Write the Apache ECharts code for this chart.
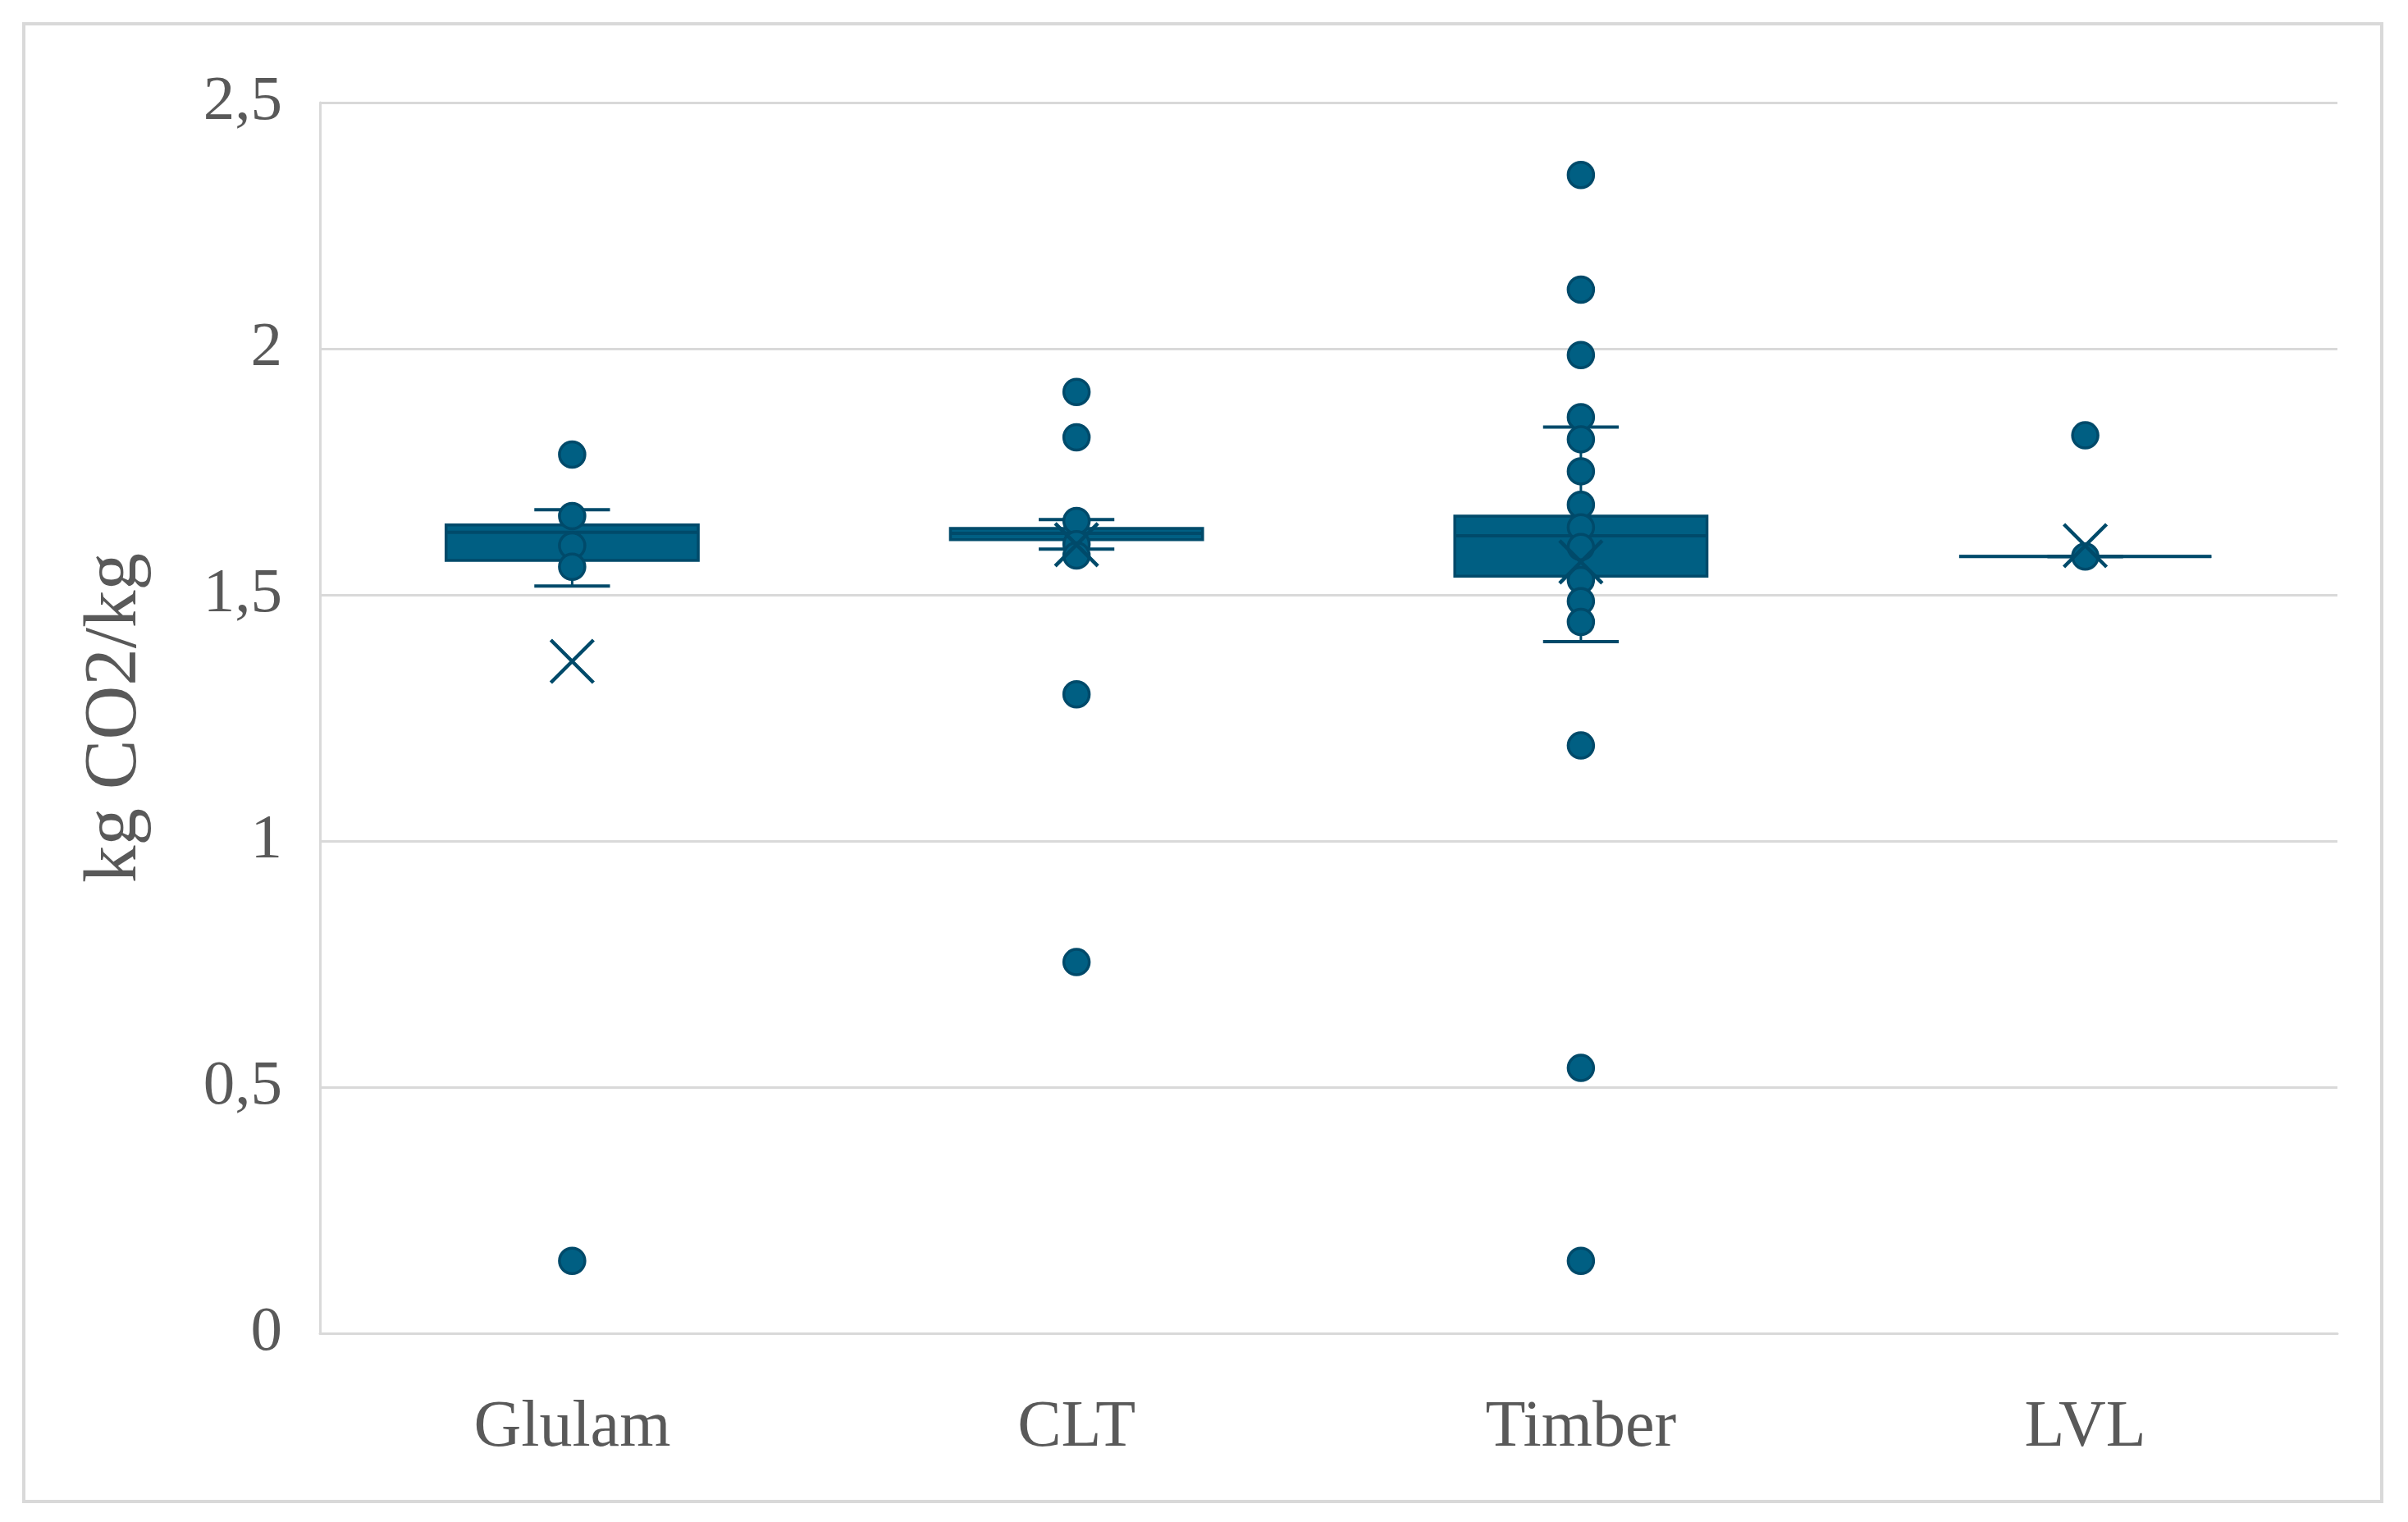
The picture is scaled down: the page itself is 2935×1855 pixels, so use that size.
<!DOCTYPE html>
<html>
<head>
<meta charset="utf-8">
<script src="https://cdn.jsdelivr.net/npm/echarts@6/dist/echarts.min.js"></script>
<style>
html,body{margin:0;padding:0;background:#fff;}
#chart{width:2935px;height:1855px;}
</style>
</head>
<body>
<div id="chart"></div>
<script>
// ---- data ----
const categories = ['Glulam', 'CLT', 'Timber', 'LVL'];
// [lower whisker, Q1, median, Q3, upper whisker]
const boxGlulam = [1.518, 1.570, 1.627, 1.642, 1.673];
const boxCLT    = [1.593, 1.612, 1.625, 1.635, 1.653];
const boxTimber = [1.405, 1.538, 1.620, 1.660, 1.841];
const boxLVL    = [1.578, 1.578, 1.578, 1.578, 1.578];
const pointsGlulam = [1.785, 1.660, 1.600, 1.557, 0.147];
const pointsCLT    = [1.912, 1.820, 1.650, 1.603, 1.580, 1.298, 0.754];
const pointsTimber = [2.353, 2.120, 1.987, 1.861, 1.816, 1.751, 1.683, 1.637, 1.597, 1.530, 1.487, 1.445, 1.194, 0.539, 0.147];
const pointsLVL    = [1.824, 1.578];
const means = [1.365, 1.602, 1.567, 1.600];
const yTickLabels = ['0', '0,5', '1', '1,5', '2', '2,5'];
const yTitle = 'kg CO2/kg';

// ---- build series data ----
const boxes = [boxGlulam, boxCLT, boxTimber, boxLVL];
const boxData = boxes.map((b, i) => [i].concat(b));
const pointSets = [pointsGlulam, pointsCLT, pointsTimber, pointsLVL];
const pointData = [];
pointSets.forEach((arr, i) => arr.forEach(v => pointData.push([i, v])));
const meanData = means.map((v, i) => [i, v]);

const FILL = '#005F83';
const DARK = '#004A6A';
const TEXT = '#595959';
const GRID = '#D9D9D9';
const FONT = 'Liberation Serif';

const chart = echarts.init(document.getElementById('chart'), null, {renderer: 'canvas'});
chart.setOption({
  animation: false,
  backgroundColor: '#ffffff',
  graphic: [{
    type: 'rect',
    shape: {x: 29, y: 29, width: 2874, height: 1801},
    style: {fill: 'none', stroke: GRID, lineWidth: 4},
    silent: true, z: -10
  }],
  grid: {left: 390, right: 86, top: 125, bottom: 230, containLabel: false},
  xAxis: {
    type: 'category',
    data: categories,
    axisLine: {show: true, lineStyle: {color: GRID, width: 3}},
    axisTick: {show: false},
    axisLabel: {color: TEXT, fontFamily: FONT, fontSize: 80, margin: 76},
    splitLine: {show: false}
  },
  yAxis: {
    type: 'value',
    min: 0, max: 2.5, interval: 0.5,
    name: yTitle,
    nameLocation: 'middle',
    nameGap: 203,
    nameRotate: 90,
    nameTextStyle: {color: TEXT, fontFamily: FONT, fontSize: 91},
    axisLine: {show: true, lineStyle: {color: GRID, width: 3}},
    axisTick: {show: false},
    axisLabel: {
      color: TEXT, fontFamily: FONT, fontSize: 77, margin: 46,
      lineHeight: 77,
      padding: [26, 0, 0, 0],
      formatter: (v, idx) => yTickLabels[Math.round(v / 0.5)]
    },
    splitLine: {show: true, lineStyle: {color: GRID, width: 3}}
  },
  series: [
    {
      type: 'custom',
      z: 2,
      data: boxData,
      encode: {x: 0, y: [1, 2, 3, 4, 5]},
      renderItem: function (params, api) {
        const x = api.value(0);
        const pLo = api.coord([x, api.value(1)]);
        const pQ1 = api.coord([x, api.value(2)]);
        const pMed = api.coord([x, api.value(3)]);
        const pQ3 = api.coord([x, api.value(4)]);
        const pHi = api.coord([x, api.value(5)]);
        const band = api.size([1, 0])[0];
        const bw = band * 0.5;
        const cw = band * 0.15;
        const cx = pMed[0];
        const lineStyle = {stroke: DARK, lineWidth: 3};
        return {
          type: 'group',
          children: [
            {type: 'line', shape: {x1: cx, y1: pQ3[1], x2: cx, y2: pHi[1]}, style: lineStyle},
            {type: 'line', shape: {x1: cx, y1: pQ1[1], x2: cx, y2: pLo[1]}, style: lineStyle},
            {type: 'line', shape: {x1: cx - cw / 2, y1: pHi[1], x2: cx + cw / 2, y2: pHi[1]}, style: {stroke: DARK, lineWidth: 4}},
            {type: 'line', shape: {x1: cx - cw / 2, y1: pLo[1], x2: cx + cw / 2, y2: pLo[1]}, style: {stroke: DARK, lineWidth: 4}},
            {type: 'rect', shape: {x: cx - bw / 2, y: pQ3[1], width: bw, height: pQ1[1] - pQ3[1]},
             style: {fill: FILL, stroke: DARK, lineWidth: 3.5}},
            {type: 'line', shape: {x1: cx - bw / 2, y1: pMed[1], x2: cx + bw / 2, y2: pMed[1]}, style: {stroke: DARK, lineWidth: 4}}
          ]
        };
      }
    },
    {
      type: 'scatter',
      z: 3,
      data: pointData,
      symbol: 'circle',
      symbolSize: 31,
      itemStyle: {color: FILL, borderColor: DARK, borderWidth: 3.5, opacity: 1}
    },
    {
      type: 'scatter',
      z: 4,
      data: meanData,
      symbol: 'path://M0,0L10,10M10,0L0,10',
      symbolSize: 52,
      itemStyle: {color: 'rgba(0,0,0,0)', borderColor: DARK, borderWidth: 4.5, opacity: 1}
    }
  ]
});
</script>
</body>
</html>
